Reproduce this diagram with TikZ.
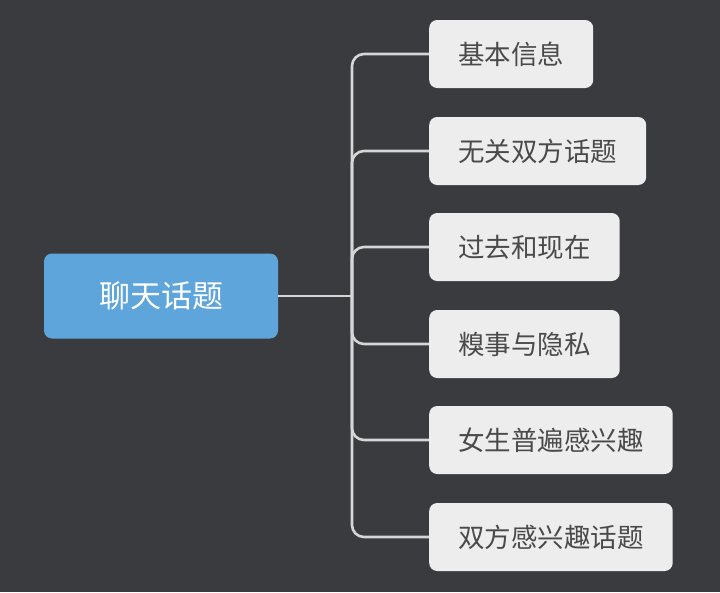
\documentclass[tikz,border=0pt]{standalone}
\usepackage{fontspec}
\newfontfamily\cjk{Noto Sans CJK SC}
\usetikzlibrary{positioning}
\definecolor{bgdark}{HTML}{3A3B3F}
\definecolor{rootblue}{HTML}{5DA5DA}
\definecolor{leafgray}{HTML}{EDEDED}
\definecolor{leaftext}{HTML}{4A4A4A}
\definecolor{wire}{HTML}{D6D6D6}
\tikzset{
  root/.style = {rectangle, rounded corners=8pt, fill=rootblue, text=white,
                 minimum width=234pt, minimum height=85pt,
                 font=\cjk\fontsize{31}{36}\selectfont},
  leaf/.style = {rectangle, rounded corners=8pt, fill=leafgray, text=leaftext,
                 anchor=west, inner xsep=29pt, minimum height=68pt,
                 font=\cjk\fontsize{26.5}{30}\selectfont},
  link/.style = {draw=wire, line width=2.6pt, rounded corners=12pt}
}
\begin{document}
\begin{tikzpicture}[x=1pt, y=-1pt]
  \fill[bgdark] (0,0) rectangle (720,592);
  \useasboundingbox (0,0) rectangle (720,592);

  \node (Topic) [root] at (161, 296) {聊天话题};
  \coordinate (Split) at (352, 296);
  \draw [link] (Topic.east) -- (Split);

  % branches
  \node (Info)    [leaf] at (429, 54)  {基本信息};
  \node (Neutral) [leaf] at (429, 151) {无关双方话题};
  \node (Past)    [leaf] at (429, 247) {过去和现在};
  \node (Private) [leaf] at (429, 344) {糗事与隐私};
  \node (Girls)   [leaf] at (429, 440) {女生普遍感兴趣};
  \node (Shared)  [leaf] at (429, 537) {双方感兴趣话题};

  \foreach \b in {Info, Neutral, Past, Private, Girls, Shared}
    \draw [link] (Split) |- (\b.west);
\end{tikzpicture}
\end{document}
